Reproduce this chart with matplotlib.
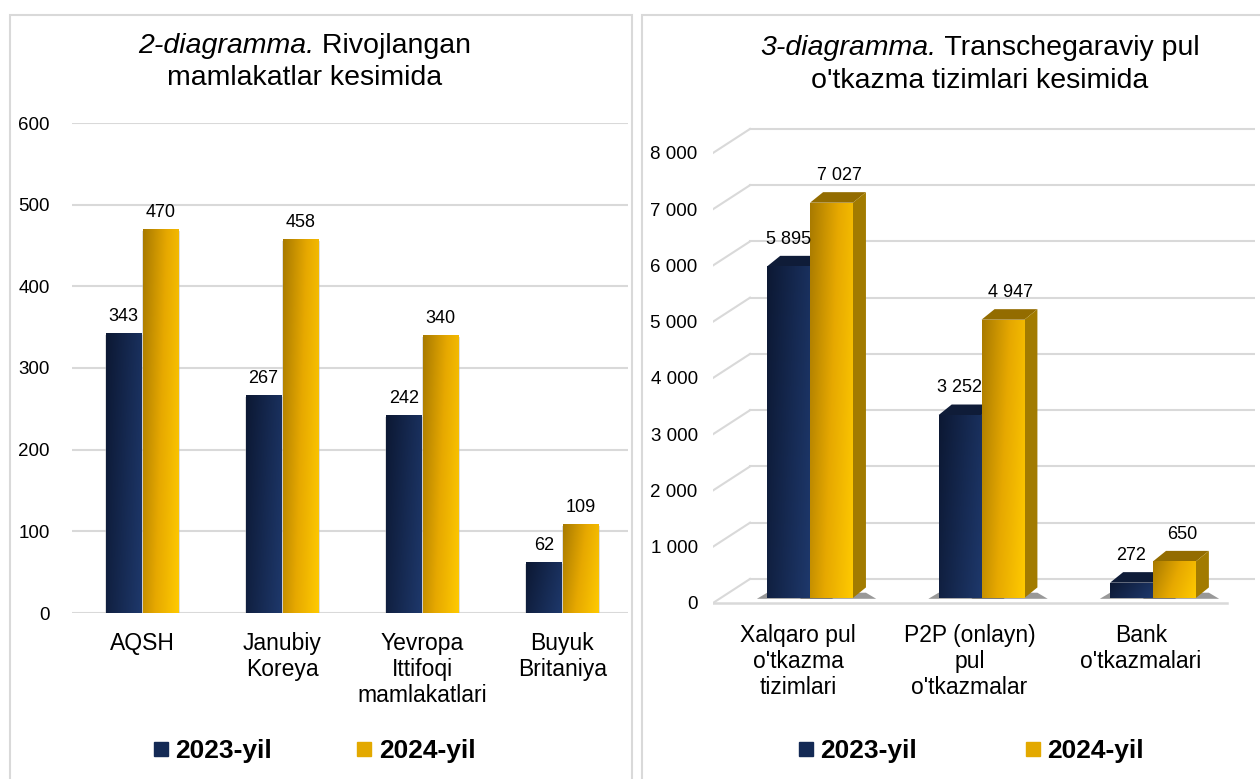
import numpy as np
import matplotlib
matplotlib.use('Agg')
import matplotlib.pyplot as plt
from matplotlib.patches import Rectangle, Polygon
from matplotlib.lines import Line2D
from matplotlib.colors import LinearSegmentedColormap

plt.rcParams['font.family'] = ['Liberation Sans', 'DejaVu Sans']

# --- data ---
years = ['2023-yil', '2024-yil']

countries = ['AQSH', 'Janubiy\nKoreya', 'Yevropa\nIttifoqi\nmamlakatlari', 'Buyuk\nBritaniya']
countries_2023 = [343, 267, 242, 62]
countries_2024 = [470, 458, 340, 109]

systems = ["Xalqaro pul\no'tkazma\ntizimlari", "P2P (onlayn)\npul\no'tkazmalar", "Bank\no'tkazmalari"]
systems_2023 = [5895, 3252, 272]
systems_2024 = [7027, 4947, 650]

left_ticks = [0, 100, 200, 300, 400, 500, 600]
right_ticks = [0, 1000, 2000, 3000, 4000, 5000, 6000, 7000, 8000]

W, H = 1260, 779
navy_cmap = LinearSegmentedColormap.from_list('navy', ['#0c1833', '#1e386b'])
gold_cmap = LinearSegmentedColormap.from_list('gold', ['#a87a00', '#e6a800', '#ffca00'])
navy_solid = '#17294f'
gold_solid = '#e0a800'
grid_c = '#d9d9d9'


def fmt(v):
    return f'{v:,}'.replace(',', ' ')


def grad_fill(ax, rect, cmap, z):
    x0, y0 = rect.get_xy()
    w, h = rect.get_width(), rect.get_height()
    g = np.linspace(0, 1, 64)
    X, Y = np.meshgrid(g, g)
    arr = 0.75 * X + 0.25 * (1 - Y)
    im = ax.imshow(arr, extent=(x0, x0 + w, y0, y0 + h), origin='lower', cmap=cmap,
                   aspect='auto', zorder=z, vmin=0, vmax=1, interpolation='bilinear')
    im.set_clip_path(rect)


fig = plt.figure(figsize=(W / 100, H / 100), dpi=100)

# panel frames
fig.add_artist(Rectangle((10 / W, -0.01), 622 / W, (H - 15) / H + 0.01, transform=fig.transFigure,
                         fill=False, ec=grid_c, lw=1.5))
fig.add_artist(Rectangle((642 / W, -0.01), 1.0, (H - 15) / H + 0.01, transform=fig.transFigure,
                         fill=False, ec=grid_c, lw=1.5))

# ---------------- left chart ----------------
ax1 = fig.add_axes([72 / W, 166 / H, 556 / W, 490 / H])
x = np.arange(len(countries))
bw = 0.25
off = 0.132
for i, vals, cmap in [(0, countries_2023, navy_cmap), (1, countries_2024, gold_cmap)]:
    pos = x + (off if i else -off)
    bars = ax1.bar(pos, vals, width=bw, color=navy_solid if i == 0 else gold_solid, zorder=3)
    for b, v in zip(bars, vals):
        bx = b.get_x()
        ax1.add_patch(Rectangle((bx - 0.008, -6), bw + 0.022, v + 4, color='#b8b8b8',
                                alpha=0.45, lw=0, zorder=2))
        grad_fill(ax1, b, cmap, 4)
        ax1.annotate(fmt(v), (b.get_x() + bw / 2, v), xytext=(0, 6), textcoords='offset points',
                     ha='center', va='bottom', fontsize=13, zorder=5)

ax1.set_xlim(-0.5, 3.47)
ax1.set_ylim(0, 600)
ax1.set_yticks(left_ticks)
ax1.set_xticks(x, countries, fontsize=16.5, linespacing=1.15)
ax1.tick_params(axis='y', length=0, pad=16, labelsize=13.5)
ax1.tick_params(axis='x', length=0, pad=14)
ax1.yaxis.grid(True, color=grid_c, lw=1.5, zorder=1)
ax1.set_axisbelow(True)
for s in ax1.spines.values():
    s.set_visible(False)

# ---------------- right chart ----------------
ax2 = fig.add_axes([713 / W, (H - 606.4) / H, 542 / W, 492.2 / H])
xs = np.arange(len(systems))
x_front, x_back = -0.566, -0.35
front_off, back_off = 89, 338
ddx, ddy = 0.076, 187

for v in right_ticks:
    ax2.plot([x_front, x_back], [v - front_off, v + back_off], color=grid_c, lw=1.5, zorder=1)
    ax2.plot([x_back, 2.7], [v + back_off] * 2, color=grid_c, lw=1.5, zorder=1)
ax2.plot([x_front, 2.43], [-front_off] * 2, color=grid_c, lw=1.8, zorder=1)

for i, vals, cmap in [(0, systems_2023, navy_cmap), (1, systems_2024, gold_cmap)]:
    pos = xs + (0.125 if i else -0.125)
    bars = ax2.bar(pos, vals, width=bw, color=navy_solid if i == 0 else gold_solid, zorder=3 + i * 3)
    for b, v in zip(bars, vals):
        x0 = b.get_x()
        x1 = x0 + bw
        # floor shadow
        ax2.add_patch(Polygon([(x0 - 0.06, -15), (x1 + ddx + 0.06, -15), (x1 + ddx, ddy * 0.5),
                               (x0, ddy * 0.5)], closed=True, color='#333333', alpha=0.5,
                              lw=0, zorder=2))
        top_c = '#0f1c38' if i == 0 else '#936c00'
        side_c = '#0d1830' if i == 0 else '#a27b00'
        ax2.add_patch(Polygon([(x0, v), (x1, v), (x1 + ddx, v + ddy), (x0 + ddx, v + ddy)],
                              closed=True, fc=top_c, ec='none', zorder=3 + i * 3 + 1))
        ax2.add_patch(Polygon([(x1, 0), (x1 + ddx, ddy), (x1 + ddx, v + ddy), (x1, v)],
                              closed=True, fc=side_c, ec='none', zorder=3 + i * 3 + 1))
        grad_fill(ax2, b, cmap, 3 + i * 3 + 2)
        ax2.annotate(fmt(v), (x0 + bw / 2 + ddx / 2, v + ddy), xytext=(1 if i else -5, 6),
                     textcoords='offset points', ha='center', va='bottom', fontsize=13, zorder=10)

ax2.set_xlim(-0.566, 2.595)
ax2.set_ylim(-150, 8600)
ax2.set_yticks([v - front_off for v in right_ticks], [fmt(v) for v in right_ticks])
ax2.set_xticks(xs - 0.07, systems, fontsize=16.5, linespacing=1.15)
ax2.tick_params(axis='y', length=0, pad=11, labelsize=13.5)
ax2.tick_params(axis='x', length=0, pad=13)
for s in ax2.spines.values():
    s.set_visible(False)

# ---------------- titles ----------------
renderer = fig.canvas.get_renderer()


def mixed_title(xc, yc, italic, regular, size=20.5):
    t1 = fig.text(0, 1 - yc / H, italic, style='italic', fontsize=size, va='center')
    t2 = fig.text(0, 1 - yc / H, regular, fontsize=size, va='center')
    w1 = t1.get_window_extent(renderer).width
    w2 = t2.get_window_extent(renderer).width
    start = xc - (w1 + w2) / 2
    t1.set_x(start / W)
    t2.set_x((start + w1) / W)


mixed_title(305, 46, '2-diagramma.', ' Rivojlangan')
fig.text(305 / W, 1 - 78 / H, 'mamlakatlar kesimida', fontsize=20.5, ha='center', va='center')
mixed_title(980, 48, '3-diagramma.', ' Transchegaraviy pul')
fig.text(980 / W, 1 - 81 / H, "o'tkazma tizimlari kesimida", fontsize=20.5, ha='center', va='center')

# ---------------- legends ----------------
handles = [Line2D([], [], marker='s', ls='', markersize=10.5, markerfacecolor=c, markeredgecolor=c)
           for c in ['#142a55', '#e3a900']]
for xc, cs in [(314, 3.2), (971, 4.1)]:
    fig.legend(handles, years, loc='center', bbox_to_anchor=(xc / W, 1 - 751 / H), ncol=2,
               frameon=False, handlelength=0.6, handletextpad=0.25, columnspacing=cs,
               prop={'weight': 'bold', 'size': 19})

fig.savefig('out.png', dpi=100)
